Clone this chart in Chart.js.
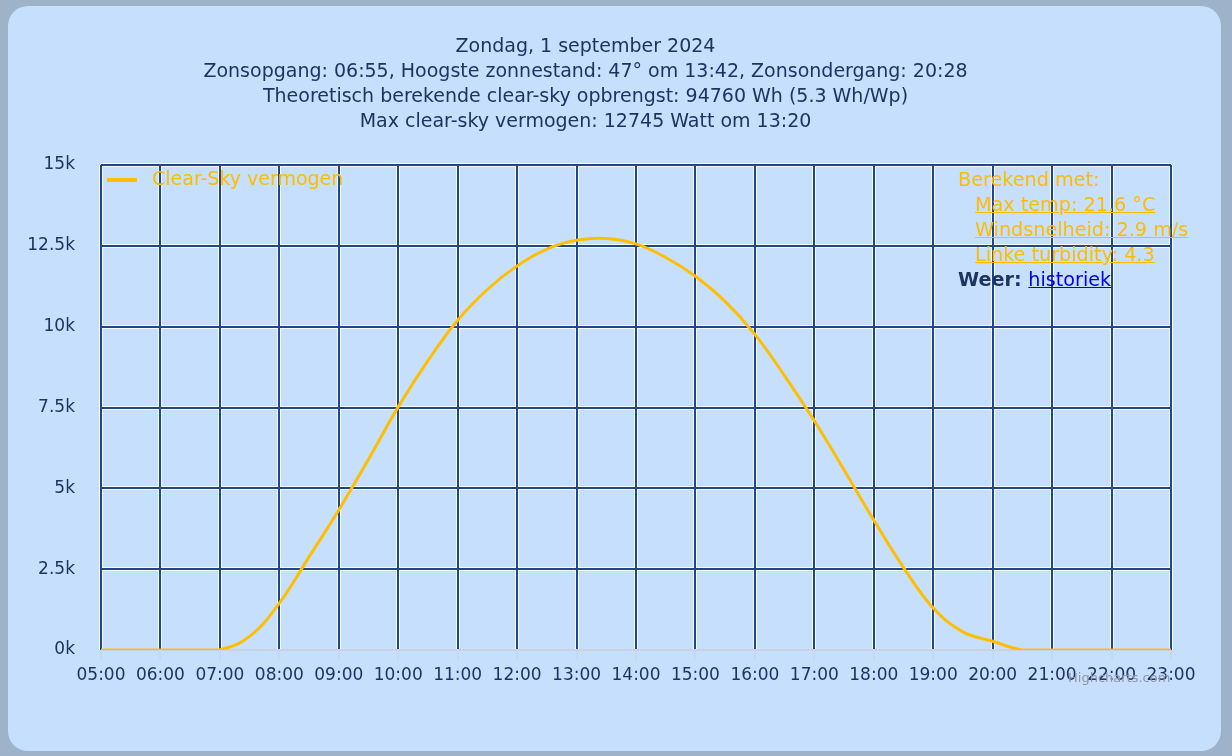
<!DOCTYPE html>
<html lang="nl">
<head>
    <meta charset="UTF-8">
    <title>Clear-sky vermogen</title>
    <script src="https://cdn.jsdelivr.net/npm/chart.js"></script>
    <style>
        body { margin: 0; background: #9eb2ca; width: 1232px; height: 756px; overflow: hidden; font-family: "DejaVu Sans", sans-serif; }
        #card { position: absolute; left: 8px; top: 6px; width: 1213px; height: 745px; background: #c6dffd; border-radius: 20px; }
        #chart { position: absolute; left: 0; top: 0; }
        #info { position: absolute; left: 958px; top: 167px; font-size: 19.2px; line-height: 25px; color: #ffbb00; }
        #info .sub { margin-left: 17px; text-decoration: underline; }
        #info .weer { color: #1d3461; font-weight: bold; }
        #info a { color: #0000ee; font-weight: normal; text-decoration: underline; }
        #credits { position: absolute; left: 1068px; top: 670px; font-size: 13px; color: #8e98a8; }
    </style>
</head>
<body>
<div id="card"></div>
<canvas id="chart" width="1232" height="756"></canvas>
<div id="info">
    <div>Berekend met:</div>
    <div class="sub">Max temp: 21.6 °C</div>
    <div class="sub">Windsnelheid: 2.9 m/s</div>
    <div class="sub">Linke turbidity: 4.3</div>
    <div class="weer">Weer: <a href="#">historiek</a></div>
</div>
<div id="credits">Highcharts.com</div>
<script>
    // tijdstippen en clear-sky vermogen (W)
    const tijden = ["05:00", "05:30", "06:00", "06:30", "07:00", "07:30", "08:00", "08:30",
        "09:00", "09:30", "10:00", "10:30", "11:00", "11:30", "12:00", "12:30", "13:00",
        "13:30", "14:00", "14:30", "15:00", "15:30", "16:00", "16:30", "17:00", "17:30", "18:00",
        "18:30", "19:00", "19:30", "20:00", "20:30", "21:00", "21:30", "22:00", "22:30", "23:00"];
    const vermogen = [0, 0, 0, 0, 10, 420, 1450, 2880,
        4330, 5900, 7520, 8950, 10200, 11150, 11880, 12400, 12670,
        12730, 12560, 12140, 11560, 10780, 9760, 8480, 7090, 5570, 4020,
        2550, 1300, 560, 270, 0, 0, 0, 0, 0, 0];
    const yTicks = [0, 2500, 5000, 7500, 10000, 12500, 15000];

    const titelRegels = [
        "Zondag, 1 september 2024",
        "Zonsopgang: 06:55, Hoogste zonnestand: 47° om 13:42, Zonsondergang: 20:28",
        "Theoretisch berekende clear-sky opbrengst: 94760 Wh (5.3 Wh/Wp)",
        "Max clear-sky vermogen: 12745 Watt om 13:20"
    ];

    const navy = "#21468a";
    const tekst = "#1d3461";

    function naarUur(t) {
        const p = t.split(":");
        return Number(p[0]) + Number(p[1]) / 60;
    }
    const punten = tijden.map((t, i) => ({ x: naarUur(t), y: vermogen[i] }));

    // lichte rand rond de rasterlijnen
    const rasterRand = {
        id: "rasterRand",
        beforeDraw(chart) {
            const { ctx, chartArea: a, scales } = chart;
            ctx.save();
            ctx.strokeStyle = "rgba(255,255,255,0.85)";
            ctx.lineWidth = 4;
            scales.x.ticks.forEach(t => {
                const x = Math.round(scales.x.getPixelForValue(t.value));
                ctx.beginPath(); ctx.moveTo(x, a.top); ctx.lineTo(x, a.bottom); ctx.stroke();
            });
            scales.y.ticks.forEach(t => {
                if (t.value === 0) return;
                const y = Math.round(scales.y.getPixelForValue(t.value));
                ctx.beginPath(); ctx.moveTo(a.left, y); ctx.lineTo(a.right, y); ctx.stroke();
            });
            ctx.restore();
        }
    };

    // legenda linksboven in het plotvlak
    const legendaBinnen = {
        id: "legendaBinnen",
        afterDatasetsDraw(chart) {
            const { ctx, chartArea: a } = chart;
            const ds = chart.data.datasets[0];
            const y = a.top + 15;
            ctx.save();
            ctx.strokeStyle = ds.borderColor;
            ctx.lineWidth = 4;
            ctx.beginPath(); ctx.moveTo(a.left + 6, y); ctx.lineTo(a.left + 36, y); ctx.stroke();
            ctx.font = "19px 'DejaVu Sans'";
            ctx.textBaseline = "middle";
            ctx.fillStyle = "#ffbb00";
            ctx.fillText(ds.label, a.left + 51, y);
            ctx.restore();
        }
    };

    new Chart(document.getElementById("chart"), {
        type: "line",
        data: {
            datasets: [{
                label: "Clear-Sky vermogen",
                data: punten,
                borderColor: "#ffbf00",
                backgroundColor: "#ffbf00",
                borderWidth: 3,
                pointRadius: 0,
                tension: 0.4,
                fill: false
            }]
        },
        options: {
            responsive: false,
            animation: false,
            devicePixelRatio: 1,
            layout: { padding: { top: 35, right: 61, bottom: 0, left: 0 } },
            plugins: {
                title: {
                    display: true,
                    text: titelRegels,
                    color: tekst,
                    font: { family: "DejaVu Sans", size: 19, weight: "normal", lineHeight: 25 / 19 },
                    padding: { top: 0, bottom: 30 }
                },
                legend: { display: false },
                tooltip: { enabled: false }
            },
            scales: {
                x: {
                    type: "linear",
                    min: 5,
                    max: 23,
                    afterFit(s) { s.height = 106; },
                    ticks: {
                        stepSize: 1,
                        color: tekst,
                        font: { family: "DejaVu Sans", size: 17 },
                        padding: 5,
                        maxRotation: 0,
                        callback: v => String(v).padStart(2, "0") + ":00"
                    },
                    grid: { color: navy, lineWidth: 2, tickColor: "#c8d2e0", tickLength: 10, tickWidth: 1 },
                    border: { display: true, color: "#c8d2e0", width: 1 }
                },
                y: {
                    min: 0,
                    max: 15000,
                    afterFit(s) { s.width = 101; },
                    afterBuildTicks(s) { s.ticks = yTicks.map(v => ({ value: v })); },
                    ticks: {
                        color: tekst,
                        font: { family: "DejaVu Sans", size: 17 },
                        padding: 26,
                        callback: v => (v / 1000) + "k"
                    },
                    grid: { color: c => c.tick.value === 0 ? "#c8d2e0" : navy, lineWidth: 2, drawTicks: false },
                    border: { display: false }
                }
            }
        },
        plugins: [rasterRand, legendaBinnen]
    });
</script>
</body>
</html>
